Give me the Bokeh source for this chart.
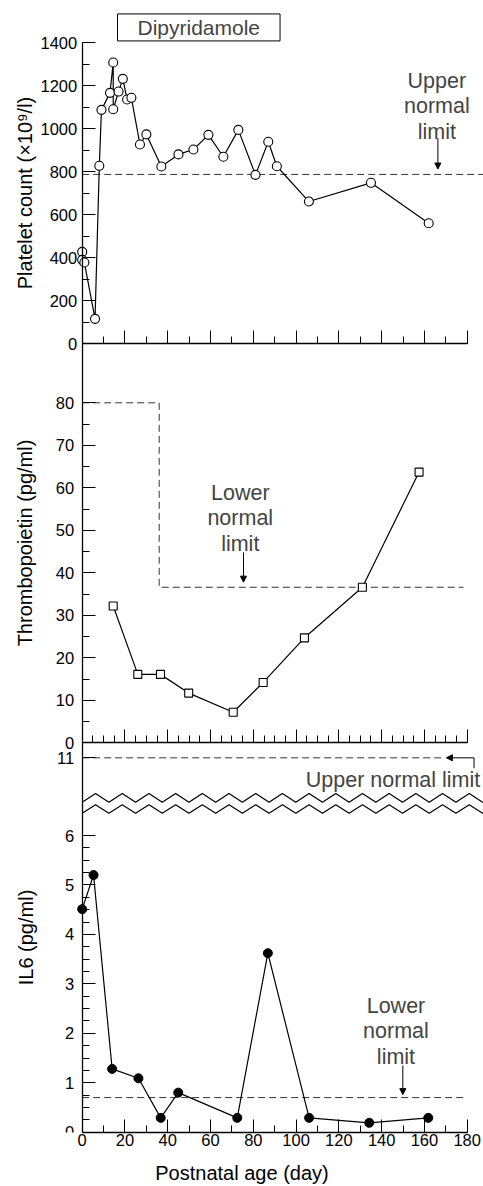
import numpy as np
from bokeh.plotting import figure
from bokeh.models import (Range1d, LinearAxis, FixedTicker, Label, Arrow,
                          NormalHead, GlobalInlineStyleSheet)
from bokeh.embed import file_html
from bokeh.resources import INLINE

# ---------------- data ----------------
PLT_DAY = [0, 0, 1, 6, 8, 9, 13, 14.5, 14.5, 17, 19, 21, 23, 27, 30, 37, 45,
           52, 59, 66, 73, 81, 87, 91, 106, 135, 162]
PLT_VAL = [427, 390, 378, 116, 827, 1087, 1166, 1307, 1090, 1172, 1231, 1135,
           1143, 926, 973, 824, 880, 903, 971, 869, 994, 785, 939, 825, 661,
           748, 560]
PLT_UPPER_LIMIT = 787

TPO_DAY = [14.5, 26, 36.6, 49.8, 70.6, 84.6, 103.9, 131.0, 157.5]
TPO_VAL = [32.2, 16.1, 16.1, 11.7, 7.2, 14.2, 24.7, 36.6, 63.7]
TPO_LIMIT_DAY = [0, 36, 36, 178.3]
TPO_LIMIT_VAL = [80, 80, 36.6, 36.6]

IL6_DAY = [0, 5.3, 14, 26.3, 36.7, 44.9, 72.5, 86.8, 106.1, 134.2, 161.8]
IL6_VAL = [4.51, 5.20, 1.28, 1.09, 0.29, 0.80, 0.29, 3.62, 0.29, 0.19, 0.29]
IL6_LOWER_LIMIT = 0.70
IL6_UPPER_LIMIT = 11
IL6_BREAK_POS = 7.571      # where the value 11 sits above the axis break

X_TICKS = list(range(0, 181, 20))
PLT_TICKS = list(range(0, 1401, 200))
TPO_TICKS = list(range(0, 81, 10))
IL6_TICKS = [0, 1, 2, 3, 4, 5, 6]

# ---------------- geometry (page pixels) ----------------
FRAME_TOP, FRAME_BOTTOM = 0.0, 1132.0
FRAME_LEFT, FRAME_RIGHT = 0.0, 483.0
PX_PER_DAY = 385.0 / 180.0
X0_PAGE = 81.7
x_start = -(X0_PAGE - FRAME_LEFT) / PX_PER_DAY
x_end = x_start + (FRAME_RIGHT - FRAME_LEFT) / PX_PER_DAY


def yr(v0, y0, s):
    return Range1d(v0 - (FRAME_BOTTOM - y0) / s, v0 + (y0 - FRAME_TOP) / s)


S_PLT = 301.3 / 1400.0
S_TPO = 4.25
S_IL6 = 49.45
Y_PLT0, Y_TPO0, Y_IL60 = 343.3, 742.3, 1131.7

FONT = "Liberation Sans"
TICK_FS = "16.5px"
LAB_FS = "20px"
ANN_FS = "21.5px"

p = figure(frame_width=int(FRAME_RIGHT - FRAME_LEFT),
           frame_height=int(FRAME_BOTTOM - FRAME_TOP),
           x_range=Range1d(x_start, x_end), y_range=yr(0, Y_IL60, S_IL6),
           output_backend="svg", toolbar_location=None,
           min_border_left=0, min_border_right=0,
           min_border_top=0, min_border_bottom=0, y_axis_location=None,
           outline_line_color=None, background_fill_color="white",
           border_fill_color="white")
p.grid.visible = False
p.extra_y_ranges = {"plt": yr(0, Y_PLT0, S_PLT), "tpo": yr(0, Y_TPO0, S_TPO)}
p.stylesheets = [GlobalInlineStyleSheet(css="html, body { overflow: hidden; }")]


def style_axis(ax, standoff):
    ax.axis_line_color = "black"
    ax.axis_line_width = 1.3
    ax.major_tick_line_color = "black"
    ax.minor_tick_line_color = "black"
    ax.major_tick_in = 13
    ax.major_tick_out = 0
    ax.minor_tick_in = 7
    ax.minor_tick_out = 0
    ax.major_label_text_font = FONT
    ax.major_label_text_font_size = TICK_FS
    ax.major_label_text_color = "black"
    ax.major_label_standoff = standoff
    ax.axis_label_text_font = FONT
    ax.axis_label_text_font_size = LAB_FS
    ax.axis_label_text_font_style = "normal"
    ax.axis_label_text_color = "black"


# bottom x axis (with labels)
xa = p.xaxis[0]
style_axis(xa, 1)
xa.ticker = FixedTicker(ticks=X_TICKS, minor_ticks=list(range(0, 181, 10)))
xa.bounds = (0, 180)
xa.axis_label = "Postnatal age (day)"
xa.axis_label_standoff = 13

# x axes of upper panels (ticks only)
for name, minor in (("plt", list(range(0, 181, 10))), ("tpo", list(range(0, 181, 5)))):
    ax = LinearAxis(y_range_name=name, fixed_location=0, bounds=(0, 180),
                    ticker=FixedTicker(ticks=X_TICKS, minor_ticks=minor))
    style_axis(ax, 0)
    ax.major_label_text_color = None
    p.add_layout(ax, "below")

# y axes
ya_plt = LinearAxis(y_range_name="plt", fixed_location=0, bounds=(0, 1400),
                    ticker=FixedTicker(ticks=PLT_TICKS, minor_ticks=list(range(0, 1401, 100))),
                    axis_label="Platelet count (×10⁹/l)")
style_axis(ya_plt, 5)
ya_plt.axis_label_standoff = 2
p.add_layout(ya_plt, "left")

ya_tpo = LinearAxis(y_range_name="tpo", fixed_location=0,
                    bounds=(0, (Y_TPO0 - Y_PLT0) / S_TPO),
                    ticker=FixedTicker(ticks=TPO_TICKS, minor_ticks=list(range(0, 81, 5))),
                    axis_label="Thrombopoietin (pg/ml)")
style_axis(ya_tpo, 8)
ya_tpo.axis_label_standoff = 17
p.add_layout(ya_tpo, "left")

ya_il6 = LinearAxis(fixed_location=0, bounds=(0, (Y_IL60 - Y_TPO0) / S_IL6),
                    ticker=FixedTicker(ticks=IL6_TICKS + [IL6_BREAK_POS],
                                       minor_ticks=list(np.arange(0, 6.01, 0.25))),
                    axis_label="IL6 (pg/ml)")
style_axis(ya_il6, 8)
ya_il6.major_label_overrides = {IL6_BREAK_POS: str(IL6_UPPER_LIMIT)}
ya_il6.axis_label_standoff = 17
p.add_layout(ya_il6, "left")

DASH = "7 4"
DASH_COLOR = "#333333"
HEAD = dict(size=6, fill_color="black", line_color="black")

# ---------------- platelet panel ----------------
p.line([0, x_end], [PLT_UPPER_LIMIT, PLT_UPPER_LIMIT], y_range_name="plt",
       line_dash=DASH, line_color=DASH_COLOR, line_width=1)
p.line(PLT_DAY, PLT_VAL, y_range_name="plt", line_color="black", line_width=1.2)
p.scatter(PLT_DAY, PLT_VAL, y_range_name="plt", marker="circle", size=9,
          fill_color="white", line_color="black", line_width=1.1)

p.add_layout(Label(x=54.5, y=1470, y_range_name="plt", text="Dipyridamole",
                   text_font=FONT, text_font_size="21px", text_align="center",
                   text_baseline="middle", border_line_color="black",
                   border_line_width=1, background_fill_color="white",
                   padding=(20, 20, 2, 2)))
p.add_layout(Label(x=165.8, y=1103, y_range_name="plt",
                   text="Upper\nnormal\nlimit", text_font=FONT,
                   text_font_size=ANN_FS, text_align="center",
                   text_baseline="middle", text_line_height=1.07))
p.add_layout(Arrow(end=NormalHead(**HEAD),
                   x_start=166.3, y_start=955, x_end=166.3, y_end=812,
                   y_range_name="plt", line_width=1, line_color="black"))

# ---------------- thrombopoietin panel ----------------
p.line(TPO_LIMIT_DAY, TPO_LIMIT_VAL, y_range_name="tpo", line_dash=DASH,
       line_color=DASH_COLOR, line_width=1)
p.line(TPO_DAY, TPO_VAL, y_range_name="tpo", line_color="black", line_width=1.2)
p.scatter(TPO_DAY, TPO_VAL, y_range_name="tpo", marker="square", size=8,
          fill_color="white", line_color="black", line_width=1.1)
p.add_layout(Label(x=73.9, y=52.8, y_range_name="tpo",
                   text="Lower\nnormal\nlimit", text_font=FONT,
                   text_font_size=ANN_FS, text_align="center",
                   text_baseline="middle", text_line_height=1.07))
p.add_layout(Arrow(end=NormalHead(**HEAD),
                   x_start=75.4, y_start=44.8, x_end=75.4, y_end=37.8,
                   y_range_name="tpo", line_width=1, line_color="black"))

# ---------------- IL6 panel ----------------
# axis break zigzags
zx = np.arange(0, x_end + 7, 6.24)
up = np.where(np.arange(len(zx)) % 2 == 0, 6.67, 6.85)
lo = np.where(np.arange(len(zx)) % 2 == 0, 6.45, 6.62)
p.line(zx, up, line_color="black", line_width=1.2)
p.line(zx, lo, line_color="black", line_width=1.2)

p.line([0, 169.7], [IL6_BREAK_POS, IL6_BREAK_POS], line_dash=DASH,
       line_color=DASH_COLOR, line_width=1)
p.line([183.2, 183.2], [7.36, IL6_BREAK_POS], line_color="black", line_width=1)
p.add_layout(Arrow(end=NormalHead(**HEAD),
                   x_start=183.2, y_start=IL6_BREAK_POS, x_end=170.3,
                   y_end=IL6_BREAK_POS, line_width=1, line_color="black"))
p.add_layout(Label(x=186.1, y=7.13, text="Upper normal limit", text_font=FONT,
                   text_font_size=ANN_FS, text_align="right",
                   text_baseline="middle"))

p.line([0, 178.3], [IL6_LOWER_LIMIT, IL6_LOWER_LIMIT], line_dash=DASH,
       line_color=DASH_COLOR, line_width=1)
p.line(IL6_DAY, IL6_VAL, line_color="black", line_width=1.2)
p.scatter(IL6_DAY, IL6_VAL, marker="circle", size=9, fill_color="black",
          line_color="black")
p.add_layout(Label(x=146.7, y=2.04, text="Lower\nnormal\nlimit",
                   text_font=FONT, text_font_size=ANN_FS, text_align="center",
                   text_baseline="middle", text_line_height=1.07))
p.add_layout(Arrow(end=NormalHead(**HEAD),
                   x_start=149.9, y_start=1.35, x_end=149.9, y_end=0.76,
                   line_width=1, line_color="black"))

open("out.html", "w").write(file_html(p, INLINE))
